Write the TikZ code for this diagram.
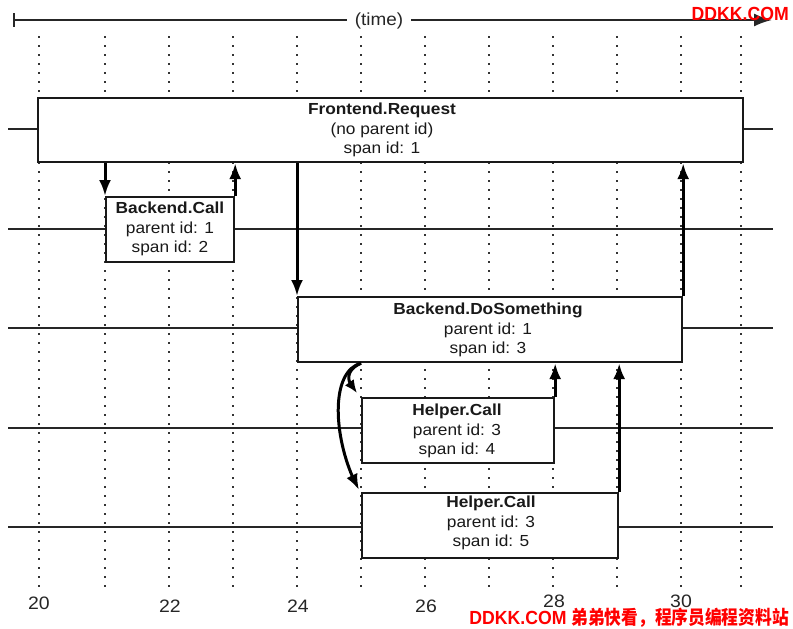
\documentclass[tikz,border=0pt]{standalone}
\usepackage{fontspec}
\setmainfont[FakeStretch=1.08]{Liberation Sans}
\newfontfamily\wmfont[FakeStretch=0.93]{Liberation Sans}
\newfontfamily\cjkfont[FakeStretch=0.88]{Noto Sans CJK SC}
\usetikzlibrary{arrows.meta,bending}
\begin{document}
\begin{tikzpicture}[x=1pt,y=-1pt,
  lane/.style={line width=2pt, draw=black!85},
  gridline/.style={line width=2pt, draw=black!80, dash pattern=on 2pt off 7pt},
  spanbox/.style={draw=black!90, line width=2.2pt, fill=white, inner sep=0pt, anchor=north west},
  spantext/.style={align=center, font=\fontsize{16}{19.5}\selectfont, text=black!90, inner sep=0pt},
  arr/.style={line width=3pt, draw=black, -{Latex[length=16pt,width=12pt]}},
  curvearr/.style={line width=3pt, draw=black, -{Latex[length=13pt,width=11pt,flex]}},
  num/.style={font=\fontsize{18}{20}\selectfont, text=black!85, inner sep=0pt},
  wm/.style={text=red, font=\bfseries\fontsize{19}{21}\selectfont, inner sep=0pt}
]
\path[fill=white, use as bounding box] (0,0) rectangle (793,629);

% dotted time grid
\foreach \x in {39,105,169,233,297,361,425,489,553,617,681,741}
  \draw[gridline] (\x,36) -- (\x,588);

% lanes
\foreach \y in {129,229,328,428,527}
  \draw[lane] (8,\y) -- (773,\y);

% time axis
\coordinate (tstart) at (14,20);
\coordinate (tend) at (772,20);
\draw[line width=2pt, draw=black!85] (14,13) -- (14,27);
\draw[line width=2pt, draw=black!85, -{Latex[length=18pt,width=13pt]}] (tstart) -- (tend);
\node[fill=white, inner xsep=8pt, inner ysep=3pt, font=\fontsize{17.5}{20}\selectfont, text=black!85] (time) at (379,21) {(time)};

% span boxes
\node[spanbox, minimum width=705pt, minimum height=64pt] (fe) at (37,97) {};
\node[spantext] (fet) at (382,130) {\textbf{Frontend.Request}\\(no parent id)\\span id: 1};

\node[spanbox, minimum width=128pt, minimum height=65pt] (bc) at (105,196) {};
\node[spantext] (bct) at (170,229) {\textbf{Backend.Call}\\parent id: 1\\span id: 2};

\node[spanbox, minimum width=384pt, minimum height=65pt] (ds) at (297,296) {};
\node[spantext] (dst) at (488,330) {\textbf{Backend.DoSomething}\\parent id: 1\\span id: 3};

\node[spanbox, minimum width=192pt, minimum height=65pt] (h4) at (361,397) {};
\node[spantext] (h4t) at (457,431) {\textbf{Helper.Call}\\parent id: 3\\span id: 4};

\node[spanbox, minimum width=256pt, minimum height=65pt] (h5) at (361,492) {};
\node[spantext] (h5t) at (491,523) {\textbf{Helper.Call}\\parent id: 3\\span id: 5};

% calls and returns
\draw[arr] (bc.north west |- fe.south) -- (bc.north west);
\draw[arr] (bc.north east) -- (bc.north east |- fe.south);
\draw[arr] (ds.north west |- fe.south) -- (ds.north west);
\draw[arr] (ds.north east) -- (ds.north east |- fe.south);
\draw[arr] (h4.north east) -- (h4.north east |- ds.south);
\draw[arr] (h5.north east) -- (h5.north east |- ds.south);
\draw[curvearr] (h4.north west |- ds.south) .. controls (350,368) and (342,378) .. ([shift={(-4,-4)}]h4.north west);
\draw[arr] (h4.north west |- ds.south) .. controls (328,372) and (334,445) .. ([shift={(-2,-2)}]h5.north west);

% axis numbers
\node[num] (n20) at (39,603) {20};
\node[num] (n22) at (170,606) {22};
\node[num] (n24) at (298,606) {24};
\node[num] (n26) at (426,606) {26};
\node[num] (n28) at (554,601) {28};
\node[num] (n30) at (681,601) {30};

% watermarks
\node[wm, anchor=east] (wm1) at (789,14) {\wmfont DDKK.COM};
\node[wm, anchor=east] (wm2) at (789,618) {\wmfont DDKK.COM {\cjkfont 弟弟快看，程序员编程资料站}};
\end{tikzpicture}
\end{document}
